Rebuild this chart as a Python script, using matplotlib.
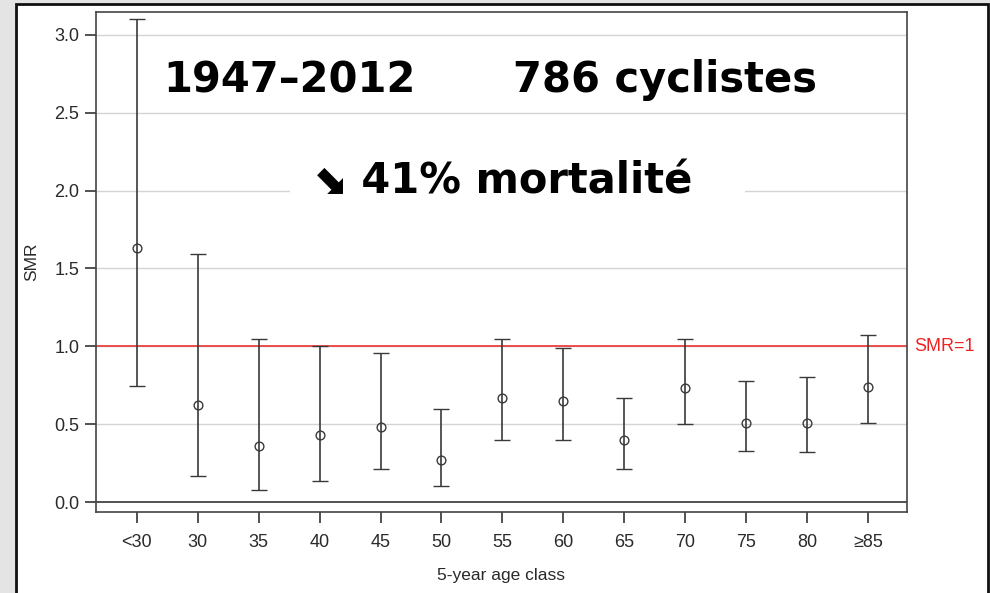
import numpy as np
import matplotlib
matplotlib.use('Agg')
import matplotlib.pyplot as plt
from matplotlib.patches import Rectangle

# SMR by 5-year age class, with confidence limits
age_labels = ['<30', '30', '35', '40', '45', '50', '55', '60', '65', '70', '75', '80', '\u226585']
smr = [1.63, 0.62, 0.36, 0.43, 0.48, 0.27, 0.67, 0.65, 0.40, 0.73, 0.51, 0.51, 0.74]
smr_low = [0.745, 0.17, 0.08, 0.135, 0.21, 0.10, 0.40, 0.40, 0.21, 0.50, 0.33, 0.32, 0.51]
smr_high = [3.10, 1.59, 1.05, 1.00, 0.955, 0.60, 1.05, 0.99, 0.67, 1.05, 0.78, 0.80, 1.07]
y_ticks = [0.0, 0.5, 1.0, 1.5, 2.0, 2.5, 3.0]

plt.rcParams['font.family'] = ['Liberation Sans', 'DejaVu Sans']

W, H = 990, 593
fig = plt.figure(figsize=(W / 100, H / 100), dpi=100)
fig.patch.set_facecolor('#e4e4e4')

# white slide panel with a dark frame, kept behind the axes
panel = Rectangle((16 / W, -0.05), (988 - 16) / W, (H - 4) / H + 0.05,
                  transform=fig.transFigure, facecolor='white',
                  edgecolor='#111111', linewidth=2, zorder=-5)
fig.patches.append(panel)

ax = fig.add_axes([96 / W, (H - 512) / H, (907 - 96) / W, (512 - 12) / H])
ax.set_facecolor('white')

x = np.arange(len(age_labels))
ax.set_xlim(-0.67, len(age_labels) - 1 + 0.64)
ax.set_ylim(-0.064, 3.147)

for yt in y_ticks[1:]:
    ax.axhline(yt, color='#d4d4d4', linewidth=1.0, zorder=1)
ax.axhline(0.0, color='#333333', linewidth=1.2, zorder=2)
ax.axhline(1.0, color='#ee2222', linewidth=1.1, zorder=2)

yerr = [np.array(smr) - np.array(smr_low), np.array(smr_high) - np.array(smr)]
ax.errorbar(x, smr, yerr=yerr, fmt='o', mfc='none', mec='#3a3a3a', mew=1.0,
            ms=6.3, ecolor='#3a3a3a', elinewidth=1.2, capsize=5.8, capthick=1.2,
            zorder=3)

ax.set_xticks(x)
ax.set_xticklabels(age_labels)
ax.set_yticks(y_ticks)
ax.set_yticklabels(['%.1f' % v for v in y_ticks])
ax.tick_params(axis='both', colors='#333333', labelcolor='#2a2a2a',
               labelsize=13, length=8, width=1.2, direction='out')
ax.tick_params(axis='x', pad=8)
ax.tick_params(axis='y', pad=4)
for s in ax.spines.values():
    s.set_color('#444444')
    s.set_linewidth(1.2)

ax.set_xlabel('5-year age class', fontsize=12.5, color='#2a2a2a', labelpad=12)
ax.set_ylabel('SMR', fontsize=12.5, color='#2a2a2a', labelpad=11)

ax.text(1.009, 1.0, 'SMR=1', transform=ax.get_yaxis_transform(),
        color='#ee2222', fontsize=13, va='center', ha='left')

# headline text; the white block hides the gridline behind the second line
ax.add_patch(Rectangle((2.51, 1.86), 7.47, 0.42, facecolor='white',
                       edgecolor='none', zorder=1.5))
big = dict(fontsize=30, fontweight='bold', ha='center', va='center',
           zorder=4, family='DejaVu Sans')
ax.text(2.50, 2.71, '1947\u20132012', **big)
ax.text(8.67, 2.71, '786 cyclistes', **big)
ax.text(6.0, 2.06, '\u2b0a 41% mortalit\u00e9', **big)

fig.savefig('out.png', dpi=100, facecolor=fig.get_facecolor())
